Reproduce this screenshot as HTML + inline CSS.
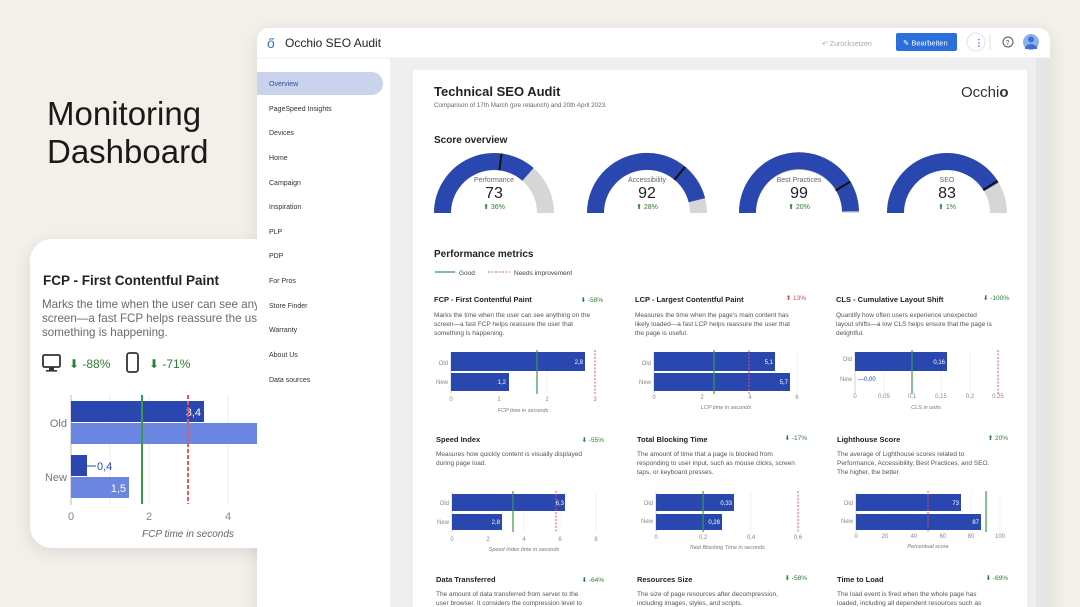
<!DOCTYPE html>
<html><head><meta charset="utf-8"><style>
html,body{margin:0;padding:0;background:#f3f0ea;}
svg{display:block;font-family:"Liberation Sans",sans-serif;}
</style></head><body>
<svg width="1080" height="607" viewBox="0 0 1080 607" xmlns="http://www.w3.org/2000/svg">
<defs>
<filter id="sh" x="-20%" y="-20%" width="140%" height="140%"><feDropShadow dx="0" dy="4" stdDeviation="8" flood-color="#000" flood-opacity="0.10"/></filter>
</defs>
<rect width="1080" height="607" fill="#f3f0ea"/>
<text x="47" y="125" font-size="33" fill="#1a1a1a">Monitoring</text>
<text x="47" y="163" font-size="33" fill="#1a1a1a">Dashboard</text>

<!-- window -->
<g filter="url(#sh)"><rect x="257" y="28" width="793" height="600" rx="12" fill="#fff"/></g>
<rect x="390" y="58" width="660" height="549" fill="#efefef"/>
<rect x="413" y="70" width="614" height="537" fill="#fff"/>
<line x1="257" y1="58" x2="1050" y2="58" stroke="#ececec"/>
<!-- header -->
<text x="267" y="48" font-size="14" fill="#3b6fd8">ő</text>
<text x="285" y="47" font-size="12" fill="#222">Occhio SEO Audit</text>
<text x="822" y="46" font-size="7" fill="#aaa">↶ Zurücksetzen</text>
<rect x="896" y="33" width="61" height="18" rx="2" fill="#2a6fdc"/>
<text x="903" y="45.5" font-size="7.5" fill="#fff">✎ Bearbeiten</text>
<circle cx="976" cy="42" r="9" fill="#fff" stroke="#e3e3e3"/>
<text x="974.5" y="45.5" font-size="9" fill="#3b6fd8" font-weight="bold">⋮</text>
<line x1="990" y1="34" x2="990" y2="50" stroke="#e3e3e3"/>
<circle cx="1008" cy="42" r="5" fill="none" stroke="#555" stroke-width="1"/>
<text x="1005.5" y="45" font-size="7" fill="#555">?</text>
<circle cx="1031" cy="42" r="8" fill="#8fb0ee"/>
<circle cx="1031" cy="39.5" r="3" fill="#3e6fd6"/>
<path d="M1025,47 Q1031,41 1037,47 L1037,49 L1025,49Z" fill="#3e6fd6"/>
<!-- sidebar -->
<rect x="257" y="72" width="126" height="23" rx="11.5" fill="#c9d3ec"/>
<rect x="257" y="72" width="12" height="23" fill="#c9d3ec"/>
<g font-size="7" fill="#333">
<text x="269" y="86" fill="#2b4ea0">Overview</text>
<text x="269" y="111">PageSpeed Insights</text>
<text x="269" y="135">Devices</text>
<text x="269" y="160">Home</text>
<text x="269" y="185">Campaign</text>
<text x="269" y="209">Inspiration</text>
<text x="269" y="234">PLP</text>
<text x="269" y="258">PDP</text>
<text x="269" y="283">For Pros</text>
<text x="269" y="308">Store Finder</text>
<text x="269" y="332">Warranty</text>
<text x="269" y="357">About Us</text>
<text x="269" y="382">Data sources</text>
</g>
<!-- scrollbar -->
<rect x="1036" y="58" width="14" height="549" fill="#e6e6e6"/>

<!-- content header -->
<text x="434" y="96" font-size="13" fill="#222" font-weight="bold">Technical SEO Audit</text>
<text x="434" y="107" font-size="6.3" fill="#666">Comparison of 17th March (pre relaunch) and 20th April 2023.</text>
<text x="961" y="97" font-size="15" fill="#333">Occh<tspan>i</tspan><tspan font-weight="bold">o</tspan></text>
<text x="434" y="143" font-size="10" fill="#222" font-weight="bold">Score overview</text>

<!-- gauges -->
<g fill="none" stroke-width="17">
<path d="M442.5,213 A51.5,51.5 0 0 1 545.5,213" stroke="#d6d6d6"/>
<path d="M442.5,213 A51.5,51.5 0 0 1 528,174.4" stroke="#2a47b0"/>
<path d="M595.5,213 A51.5,51.5 0 0 1 698.5,213" stroke="#d6d6d6"/>
<path d="M595.5,213 A51.5,51.5 0 0 1 696.9,200.2" stroke="#2a47b0"/>
<path d="M747.5,213 A51.5,51.5 0 0 1 850.5,213" stroke="#d6d6d6"/>
<path d="M747.5,213 A51.5,51.5 0 0 1 850.5,211.4" stroke="#2a47b0"/>
<path d="M895.5,213 A51.5,51.5 0 0 1 998.5,213" stroke="#d6d6d6"/>
<path d="M895.5,213 A51.5,51.5 0 0 1 991.3,186.8" stroke="#2a47b0"/>
</g>
<g stroke="#111" stroke-width="2">
<line x1="499.4" y1="170.3" x2="501.5" y2="153.5"/>
<line x1="674.4" y1="179.9" x2="685.2" y2="166.8"/>
<line x1="835.7" y1="190.5" x2="850.2" y2="181.6"/>
<line x1="983.3" y1="190" x2="997.6" y2="180.8"/>
</g>
<g text-anchor="middle">
<text x="494" y="182" font-size="7" fill="#666">Performance</text>
<text x="494" y="198" font-size="16" fill="#222">73</text>
<text x="494" y="209" font-size="7" fill="#2e7d32">⬆ 36%</text>
<text x="647" y="182" font-size="7" fill="#666">Accessibility</text>
<text x="647" y="198" font-size="16" fill="#222">92</text>
<text x="647" y="209" font-size="7" fill="#2e7d32">⬆ 28%</text>
<text x="799" y="182" font-size="7" fill="#666">Best Practices</text>
<text x="799" y="198" font-size="16" fill="#222">99</text>
<text x="799" y="209" font-size="7" fill="#2e7d32">⬆ 20%</text>
<text x="947" y="182" font-size="7" fill="#666">SEO</text>
<text x="947" y="198" font-size="16" fill="#222">83</text>
<text x="947" y="209" font-size="7" fill="#2e7d32">⬆ 1%</text>
</g>

<text x="434" y="257" font-size="10" fill="#222" font-weight="bold">Performance metrics</text>
<line x1="435" y1="272" x2="455" y2="272" stroke="#3a9a4a" stroke-width="1.2"/>
<text x="459" y="275" font-size="6.5" fill="#444">Good</text>
<line x1="488" y1="272" x2="510" y2="272" stroke="#e55" stroke-width="1" stroke-dasharray="2,1.5"/>
<text x="514" y="275" font-size="6.5" fill="#444">Needs improvement</text>

<!-- metric texts -->
<g font-size="7.5" font-weight="bold" fill="#222">
<text x="434" y="302">FCP - First Contentful Paint</text>
<text x="635" y="302">LCP - Largest Contentful Paint</text>
<text x="836" y="302">CLS - Cumulative Layout Shift</text>
<text x="436" y="442">Speed Index</text>
<text x="637" y="442">Total Blocking Time</text>
<text x="837" y="442">Lighthouse Score</text>
<text x="436" y="582">Data Transferred</text>
<text x="637" y="582">Resources Size</text>
<text x="837" y="582">Time to Load</text>
</g>
<g font-size="6.5" text-anchor="end">
<text x="603" y="302" fill="#2e7d32">⬇ -58%</text>
<text x="806" y="300" fill="#d84a4a">⬆ 13%</text>
<text x="1009" y="300" fill="#2e7d32">⬇ -100%</text>
<text x="604" y="442" fill="#2e7d32">⬇ -55%</text>
<text x="807" y="440" fill="#2e7d32">⬇ -17%</text>
<text x="1008" y="440" fill="#2e7d32">⬆ 20%</text>
<text x="604" y="582" fill="#2e7d32">⬇ -64%</text>
<text x="807" y="580" fill="#2e7d32">⬇ -58%</text>
<text x="1008" y="580" fill="#2e7d32">⬇ -69%</text>
</g>
<g font-size="6.5" fill="#555">
<text x="434" y="317">Marks the time when the user can see anything on the</text>
<text x="434" y="326">screen—a fast FCP helps reassure the user that</text>
<text x="434" y="335">something is happening.</text>
<text x="635" y="317">Measures the time when the page's main content has</text>
<text x="635" y="326">likely loaded—a fast LCP helps reassure the user that</text>
<text x="635" y="335">the page is useful.</text>
<text x="836" y="317">Quantify how often users experience unexpected</text>
<text x="836" y="326">layout shifts—a low CLS helps ensure that the page is</text>
<text x="836" y="335">delightful.</text>
<text x="436" y="456">Measures how quickly content is visually displayed</text>
<text x="436" y="465">during page load.</text>
<text x="637" y="456">The amount of time that a page is blocked from</text>
<text x="637" y="465">responding to user input, such as mouse clicks, screen</text>
<text x="637" y="474">taps, or keyboard presses.</text>
<text x="837" y="456">The average of Lighthouse scores related to</text>
<text x="837" y="465">Performance, Accessibility, Best Practices, and SEO.</text>
<text x="837" y="474">The higher, the better.</text>
<text x="436" y="596">The amount of data transferred from server to the</text>
<text x="436" y="605">user browser. It considers the compression level to</text>
<text x="637" y="596">The size of page resources after decompression,</text>
<text x="637" y="605">including images, styles, and scripts.</text>
<text x="837" y="596">The load event is fired when the whole page has</text>
<text x="837" y="605">loaded, including all dependent resources such as</text>
</g>

<!-- charts -->
<g stroke="#eee" stroke-width="0.7">
<line x1="499" y1="352" x2="499" y2="393"/><line x1="547" y1="352" x2="547" y2="393"/><line x1="595" y1="352" x2="595" y2="393"/>
<line x1="678" y1="352" x2="678" y2="393"/><line x1="702" y1="352" x2="702" y2="393"/><line x1="726" y1="352" x2="726" y2="393"/><line x1="750" y1="352" x2="750" y2="393"/><line x1="773" y1="352" x2="773" y2="393"/><line x1="797" y1="352" x2="797" y2="393"/>
<line x1="884" y1="352" x2="884" y2="393"/><line x1="912" y1="352" x2="912" y2="393"/><line x1="941" y1="352" x2="941" y2="393"/><line x1="970" y1="352" x2="970" y2="393"/><line x1="998" y1="352" x2="998" y2="393"/>
<line x1="488" y1="492" x2="488" y2="532"/><line x1="524" y1="492" x2="524" y2="532"/><line x1="560" y1="492" x2="560" y2="532"/><line x1="596" y1="492" x2="596" y2="532"/>
<line x1="703" y1="492" x2="703" y2="532"/><line x1="751" y1="492" x2="751" y2="532"/><line x1="798" y1="492" x2="798" y2="532"/>
<line x1="885" y1="492" x2="885" y2="532"/><line x1="914" y1="492" x2="914" y2="532"/><line x1="943" y1="492" x2="943" y2="532"/><line x1="971" y1="492" x2="971" y2="532"/><line x1="1000" y1="492" x2="1000" y2="532"/>
</g>
<g stroke="#bbb" stroke-width="0.7">
<line x1="451" y1="352" x2="451" y2="393"/><line x1="654" y1="352" x2="654" y2="393"/><line x1="855" y1="352" x2="855" y2="393"/>
<line x1="452" y1="492" x2="452" y2="532"/><line x1="656" y1="492" x2="656" y2="532"/><line x1="856" y1="492" x2="856" y2="532"/>
</g>
<g fill="#2a47b0">
<rect x="451" y="352" width="134" height="19"/><rect x="451" y="373" width="58" height="18"/>
<rect x="654" y="352" width="121" height="19"/><rect x="654" y="373" width="136" height="18"/>
<rect x="855" y="352" width="92" height="19"/>
<rect x="452" y="494" width="113" height="17"/><rect x="452" y="514" width="50" height="16"/>
<rect x="656" y="494" width="78" height="17"/><rect x="656" y="514" width="66" height="16"/>
<rect x="856" y="494" width="105" height="17"/><rect x="856" y="514" width="125" height="16"/>
</g>
<g stroke="#3a9a4a" stroke-width="1.2">
<line x1="537" y1="350" x2="537" y2="394"/><line x1="714" y1="350" x2="714" y2="394"/><line x1="912" y1="350" x2="912" y2="394"/>
<line x1="513" y1="491" x2="513" y2="532"/><line x1="703" y1="491" x2="703" y2="532"/><line x1="986" y1="491" x2="986" y2="532"/>
</g>
<g stroke="#e55" stroke-width="1" stroke-dasharray="2,1.5">
<line x1="595" y1="350" x2="595" y2="394"/><line x1="749" y1="350" x2="749" y2="394"/><line x1="998" y1="350" x2="998" y2="394"/>
<line x1="556" y1="491" x2="556" y2="532"/><line x1="798" y1="491" x2="798" y2="532"/><line x1="928" y1="491" x2="928" y2="532"/>
</g>
<g font-size="6" fill="#fff" text-anchor="end">
<text x="583" y="364">2,8</text><text x="506" y="384">1,2</text>
<text x="773" y="364">5,1</text><text x="788" y="384">5,7</text>
<text x="945" y="364">0,16</text>
<text x="564" y="505">6,3</text><text x="500" y="524">2,8</text>
<text x="732" y="505">0,33</text><text x="720" y="524">0,28</text>
<text x="959" y="505">73</text><text x="979" y="524">87</text>
</g>
<text x="858" y="381" font-size="6" fill="#2a47b0">—0,00</text>
<g font-size="6" fill="#888" text-anchor="end">
<text x="448" y="365">Old</text><text x="448" y="384">New</text>
<text x="651" y="365">Old</text><text x="651" y="384">New</text>
<text x="852" y="361">Old</text><text x="852" y="381">New</text>
<text x="449" y="505">Old</text><text x="449" y="524">New</text>
<text x="653" y="505">Old</text><text x="653" y="523">New</text>
<text x="853" y="505">Old</text><text x="853" y="523">New</text>
</g>
<g font-size="6" fill="#888" text-anchor="middle">
<text x="451" y="401">0</text><text x="499" y="401">1</text><text x="547" y="401">2</text><text x="595" y="401">3</text>
<text x="654" y="399">0</text><text x="702" y="399">2</text><text x="750" y="399">4</text><text x="797" y="399">6</text>
<text x="855" y="398">0</text><text x="884" y="398">0,05</text><text x="912" y="398">0,1</text><text x="941" y="398">0,15</text><text x="970" y="398">0,2</text><text x="998" y="398">0,25</text>
<text x="452" y="541">0</text><text x="488" y="541">2</text><text x="524" y="541">4</text><text x="560" y="541">6</text><text x="596" y="541">8</text>
<text x="656" y="539">0</text><text x="703" y="539">0,2</text><text x="751" y="539">0,4</text><text x="798" y="539">0,6</text>
<text x="856" y="538">0</text><text x="885" y="538">20</text><text x="914" y="538">40</text><text x="943" y="538">60</text><text x="971" y="538">80</text><text x="1000" y="538">100</text>
</g>
<g font-size="5.5" fill="#777" font-style="italic" text-anchor="middle">
<text x="523" y="412">FCP time in seconds</text>
<text x="726" y="409">LCP time in seconds</text>
<text x="926" y="409">CLS in units</text>
<text x="524" y="551">Speed Index time in seconds</text>
<text x="727" y="549">Total Blocking Time in seconds</text>
<text x="928" y="548">Percentual score</text>
</g>

<!-- left card -->
<g>
<defs><clipPath id="cc"><rect x="0" y="0" width="257" height="607"/></clipPath></defs>
<g clip-path="url(#cc)">
<g filter="url(#sh)"><rect x="30" y="239" width="300" height="309" rx="22" fill="#fff"/></g>
<text x="43" y="285" font-size="13.5" font-weight="bold" fill="#222">FCP - First Contentful Paint</text>
<g font-size="11.6" fill="#6a6a6a">
<text x="42" y="308">Marks the time when the user can see anything on the</text>
<text x="42" y="322">screen—a fast FCP helps reassure the user that</text>
<text x="42" y="336">something is happening.</text>
</g>
<rect x="43" y="355" width="17" height="12" rx="1.5" fill="none" stroke="#333" stroke-width="1.8"/>
<rect x="49" y="367" width="5" height="3" fill="#333"/><rect x="46" y="370" width="11" height="1.6" fill="#333"/>
<text x="69" y="368" font-size="12" fill="#2e7d32">⬇ -88%</text>
<rect x="127" y="353" width="11" height="19" rx="2.5" fill="none" stroke="#333" stroke-width="1.8"/>
<text x="149" y="368" font-size="12" fill="#2e7d32">⬇ -71%</text>
<g stroke="#eee" stroke-width="1"><line x1="110" y1="395" x2="110" y2="505"/><line x1="149" y1="395" x2="149" y2="505"/><line x1="188" y1="395" x2="188" y2="505"/><line x1="228" y1="395" x2="228" y2="505"/></g>
<line x1="71" y1="395" x2="71" y2="505" stroke="#bbb"/>
<rect x="71" y="401" width="133" height="21" fill="#2a47b0"/>
<rect x="71" y="423" width="200" height="21" fill="#6b86e0"/>
<rect x="71" y="455" width="16" height="21" fill="#2a47b0"/>
<rect x="71" y="477" width="58" height="21" fill="#6b86e0"/>
<line x1="87" y1="466" x2="96" y2="466" stroke="#2a47b0"/>
<text x="97" y="470" font-size="11" fill="#2a47b0">0,4</text>
<text x="201" y="416" font-size="11" fill="#fff" text-anchor="end">3,4</text>
<text x="126" y="492" font-size="11" fill="#fff" text-anchor="end">1,5</text>
<line x1="142" y1="395" x2="142" y2="504" stroke="#3a9a4a" stroke-width="2"/>
<line x1="188" y1="395" x2="188" y2="504" stroke="#e55" stroke-width="2" stroke-dasharray="4,2"/>
<text x="67" y="427" font-size="11" fill="#777" text-anchor="end">Old</text>
<text x="67" y="481" font-size="11" fill="#777" text-anchor="end">New</text>
<g font-size="11" fill="#888" text-anchor="middle"><text x="71" y="520">0</text><text x="149" y="520">2</text><text x="228" y="520">4</text></g>
<text x="188" y="537" font-size="10" fill="#666" font-style="italic" text-anchor="middle">FCP time in seconds</text>
</g>
</g>
</svg>
</body></html>
